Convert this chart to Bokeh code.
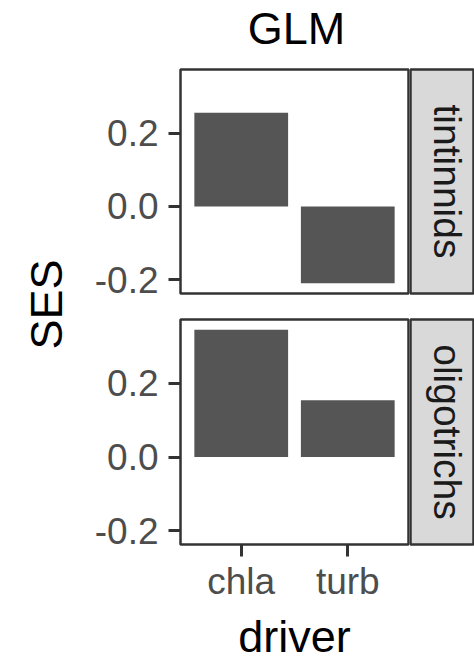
import math
from bokeh.plotting import figure
from bokeh.layouts import row, column
from bokeh.models import (FactorRange, Range1d, FixedTicker, NumeralTickFormatter,
                          Label, ColumnDataSource)
from bokeh.embed import file_html
from bokeh.resources import INLINE

# ---- data ----
drivers = ["chla", "turb"]
groups = ["tintinnids", "oligotrichs"]
ses_tintinnids = [0.256, -0.21]
ses_oligotrichs = [0.346, 0.154]
y_ticks = [-0.2, 0.0, 0.2]
title_text = "GLM"
x_title = "driver"
y_title = "SES"

FONT = "Liberation Sans"
BAR = "#555555"
BORDER = "#333333"
TICKTXT = "#4d4d4d"
STRIP = "#d9d9d9"

lo = min(ses_tintinnids + ses_oligotrichs)
hi = max(ses_tintinnids + ses_oligotrichs)
pad = (hi - lo) * 0.05
YR = (lo - pad, hi + pad)

LEFT_W = 80          # width of the column holding the y title
PANEL_W = 330        # panel figure width (incl. tick labels)
STRIP_W = 64


def blank(width, height, xr, yr):
    f = figure(width=width, height=height, output_backend="svg", toolbar_location=None,
               x_range=xr, y_range=yr, x_axis_type=None, y_axis_type=None)
    f.min_border = 0
    f.outline_line_color = None
    f.grid.visible = False
    f.background_fill_color = "white"
    f.border_fill_color = "white"
    return f


def panel(values, width, height, top, bottom, show_x):
    p = figure(width=width, height=height, output_backend="svg", toolbar_location=None,
               x_range=FactorRange(*drivers, range_padding=0.07, range_padding_units="absolute"),
               y_range=Range1d(*YR))
    p.min_border_left = 180 - LEFT_W
    p.min_border_right = 2
    p.min_border_top = top
    p.min_border_bottom = bottom
    p.background_fill_color = "white"
    p.border_fill_color = "white"
    p.outline_line_color = BORDER
    p.outline_line_width = 2.5
    p.grid.visible = False
    src = ColumnDataSource(dict(x=drivers, top=values))
    p.vbar(x="x", top="top", bottom=0, width=0.88, source=src,
           fill_color=BAR, line_color=None)
    ya = p.yaxis[0]
    ya.ticker = FixedTicker(ticks=y_ticks)
    ya.formatter = NumeralTickFormatter(format="0.0")
    ya.axis_line_color = None
    ya.major_tick_in = 0
    ya.major_tick_out = 12
    ya.major_tick_line_width = 3
    ya.major_tick_line_color = BORDER
    ya.minor_tick_line_color = None
    ya.major_label_text_font = FONT
    ya.major_label_text_font_size = "37px"
    ya.major_label_text_color = TICKTXT
    ya.major_label_standoff = 10
    xa = p.xaxis[0]
    if show_x:
        xa.axis_line_color = None
        xa.major_tick_in = 0
        xa.major_tick_out = 12
        xa.major_tick_line_width = 3
        xa.major_tick_line_color = BORDER
        xa.major_label_text_font = FONT
        xa.major_label_text_font_size = "37px"
        xa.major_label_text_color = TICKTXT
        xa.major_label_standoff = 4
        xa.axis_label = x_title
        xa.axis_label_text_font = FONT
        xa.axis_label_text_font_size = "45px"
        xa.axis_label_text_font_style = "normal"
        xa.axis_label_text_color = "black"
        xa.axis_label_standoff = 6
    else:
        xa.visible = False
    return p


def strip(label, width, height, top, bottom):
    s = figure(width=width, height=height, output_backend="svg", toolbar_location=None,
               x_range=Range1d(0, 1), y_range=Range1d(0, 1),
               x_axis_type=None, y_axis_type=None)
    s.min_border_left = 0
    s.min_border_right = 0
    s.min_border_top = top
    s.min_border_bottom = bottom
    s.background_fill_color = STRIP
    s.border_fill_color = "white"
    s.outline_line_color = BORDER
    s.outline_line_width = 2.5
    s.grid.visible = False
    s.add_layout(Label(x=0.58, y=0.5, text=label, angle=-math.pi / 2,
                       text_align="center", text_baseline="middle",
                       text_font=FONT, text_font_size="39px", text_color="#1a1a1a"))
    return s


TITLE_H = 60
right_w = PANEL_W + STRIP_W

# title row (x in page pixels, y measured from the bottom of this row)
title_fig = blank(right_w, TITLE_H, Range1d(LEFT_W, LEFT_W + right_w), Range1d(0, TITLE_H))
title_fig.add_layout(Label(x=296, y=TITLE_H - 28, text=title_text, text_align="center",
                           text_baseline="middle", text_font=FONT,
                           text_font_size="45px", text_color="black"))

p1 = panel(ses_tintinnids, PANEL_W, 306 - TITLE_H, 69 - TITLE_H, 13, False)
s1 = strip(groups[0], STRIP_W, 306 - TITLE_H, 69 - TITLE_H, 13)
p2 = panel(ses_oligotrichs, PANEL_W, 358, 13, 120, True)
s2 = strip(groups[1], STRIP_W, 358, 13, 120)

ses = blank(LEFT_W, 664, Range1d(0, LEFT_W), Range1d(0, 664))
ses.add_layout(Label(x=46, y=664 - 304, text=y_title, angle=math.pi / 2,
                     text_align="center", text_baseline="middle",
                     text_font=FONT, text_font_size="45px", text_color="black"))

layout = row(ses, column(title_fig, row(p1, s1), row(p2, s2)))

open("out.html", "w").write(file_html(layout, INLINE))
